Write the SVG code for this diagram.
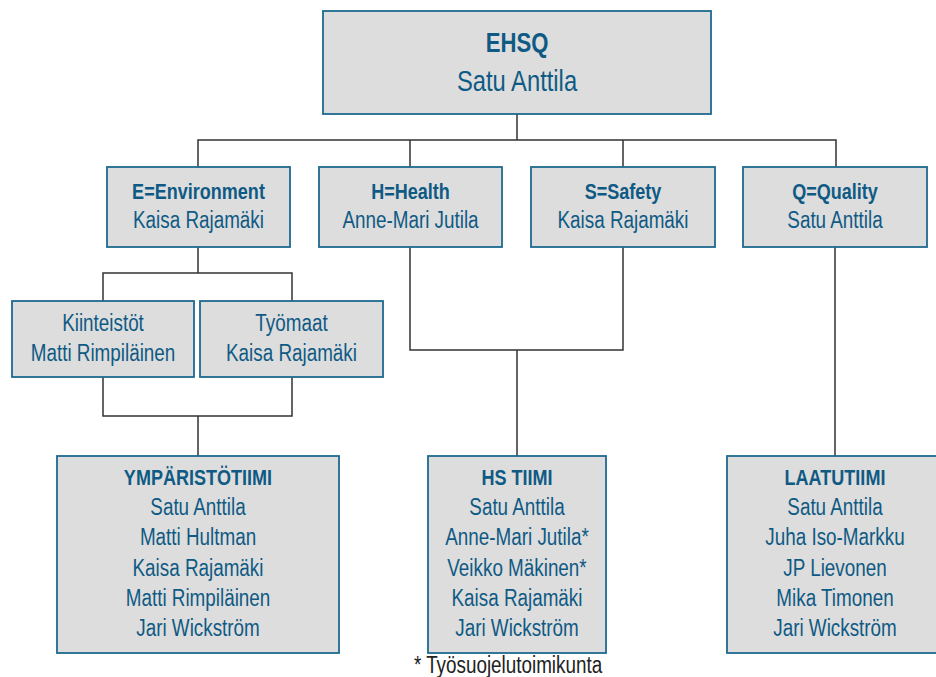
<svg xmlns="http://www.w3.org/2000/svg" width="936" height="677" viewBox="0 0 936 677">
<style>
.box{fill:#dddddd;stroke:#1d6a90;stroke-width:1.8}
text{font-family:"Liberation Sans",Arial,sans-serif;fill:#0f5a84;text-anchor:middle;font-size:23px}
.b{font-weight:bold;font-size:22px}
.conn{fill:none;stroke:#333333;stroke-width:1.5}
.note{fill:#222222}
</style>
<rect width="936" height="677" fill="#ffffff"/>
<g id="connectors" class="conn">
<path d="M517 114V140M198 167V140H836V167M410 140V167M623 140V167"/>
<path d="M198 247V273M103 301V273H292V301"/>
<path d="M103 377V416H292V377M198 416V456"/>
<path d="M410 247V350H623V247M517 350V456"/>
<path d="M835 247V456"/>
</g>
<g id="ehsq">
<rect class="box" x="323" y="11" width="388" height="103"/>
<g transform="translate(517,0) scale(0.82,1)">
<text x="0" y="52" class="b" style="font-size:27px">EHSQ</text>
<text x="0" y="91" style="font-size:29px">Satu Anttila</text>
</g>
</g>
<g id="environment">
<rect class="box" x="107" y="167" width="183" height="80"/>
<g transform="translate(198.5,0) scale(0.82,1)">
<text x="0" y="199" class="b">E=Environment</text>
<text x="0" y="228">Kaisa Rajamäki</text>
</g>
</g>
<g id="health">
<rect class="box" x="319" y="167" width="183" height="80"/>
<g transform="translate(410.5,0) scale(0.82,1)">
<text x="0" y="199" class="b">H=Health</text>
<text x="0" y="228">Anne-Mari Jutila</text>
</g>
</g>
<g id="safety">
<rect class="box" x="531" y="167" width="184" height="80"/>
<g transform="translate(623,0) scale(0.82,1)">
<text x="0" y="199" class="b">S=Safety</text>
<text x="0" y="228">Kaisa Rajamäki</text>
</g>
</g>
<g id="quality">
<rect class="box" x="743" y="167" width="184" height="80"/>
<g transform="translate(835,0) scale(0.82,1)">
<text x="0" y="199" class="b">Q=Quality</text>
<text x="0" y="228">Satu Anttila</text>
</g>
</g>
<g id="kiinteistot">
<rect class="box" x="12" y="301" width="182" height="76"/>
<g transform="translate(103,0) scale(0.82,1)">
<text x="0" y="331">Kiinteistöt</text>
<text x="0" y="361">Matti Rimpiläinen</text>
</g>
</g>
<g id="tyomaat">
<rect class="box" x="200" y="301" width="183" height="76"/>
<g transform="translate(291.5,0) scale(0.82,1)">
<text x="0" y="331">Työmaat</text>
<text x="0" y="361">Kaisa Rajamäki</text>
</g>
</g>
<g id="ymparistotiimi">
<rect class="box" x="57" y="456" width="282" height="197"/>
<g transform="translate(198,0) scale(0.82,1)">
<text x="0" y="485" class="b">YMPÄRISTÖTIIMI</text>
<text x="0" y="515">Satu Anttila</text>
<text x="0" y="545">Matti Hultman</text>
<text x="0" y="576">Kaisa Rajamäki</text>
<text x="0" y="606">Matti Rimpiläinen</text>
<text x="0" y="636">Jari Wickström</text>
</g>
</g>
<g id="hstiimi">
<rect class="box" x="428" y="456" width="178" height="197"/>
<g transform="translate(517,0) scale(0.82,1)">
<text x="0" y="485" class="b">HS TIIMI</text>
<text x="0" y="515">Satu Anttila</text>
<text x="0" y="545">Anne-Mari Jutila*</text>
<text x="0" y="576">Veikko Mäkinen*</text>
<text x="0" y="606">Kaisa Rajamäki</text>
<text x="0" y="636">Jari Wickström</text>
</g>
</g>
<g id="laatutiimi">
<rect class="box" x="727" y="456" width="216" height="197"/>
<g transform="translate(835,0) scale(0.82,1)">
<text x="0" y="485" class="b">LAATUTIIMI</text>
<text x="0" y="515">Satu Anttila</text>
<text x="0" y="545">Juha Iso-Markku</text>
<text x="0" y="576">JP Lievonen</text>
<text x="0" y="606">Mika Timonen</text>
<text x="0" y="636">Jari Wickström</text>
</g>
</g>
<g id="footnote" transform="translate(508,0) scale(0.82,1)">
<text class="note" x="0" y="673">* Työsuojelutoimikunta</text>
</g>
</svg>
